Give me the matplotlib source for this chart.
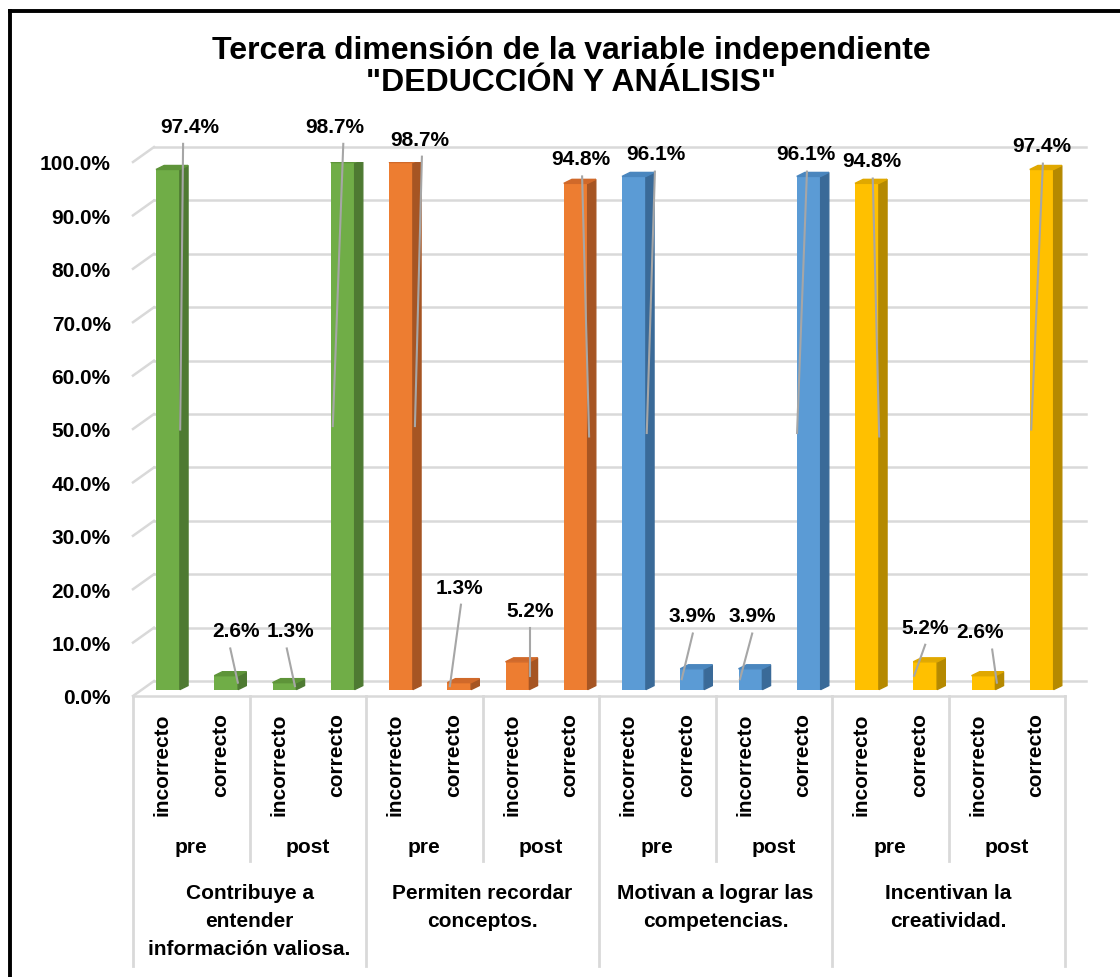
import matplotlib.pyplot as plt
from matplotlib.patches import Polygon
from matplotlib.lines import Line2D
from matplotlib.transforms import blended_transform_factory

plt.rcParams['font.family'] = ['Liberation Sans', 'DejaVu Sans']

# categorias del eje (tres niveles)
temas = ["Contribuye a\nentender\ninformación valiosa.",
         "Permiten recordar\nconceptos.",
         "Motivan a lograr las\ncompetencias.",
         "Incentivan la\ncreatividad."]
momentos = ["pre", "post"]
respuestas = ["incorrecto", "correcto"]

# porcentajes: pre-incorrecto, pre-correcto, post-incorrecto, post-correcto
contribuye = [97.4, 2.6, 1.3, 98.7]
permiten = [98.7, 1.3, 5.2, 94.8]
motivan = [96.1, 3.9, 3.9, 96.1]
incentivan = [94.8, 5.2, 2.6, 97.4]
series = [contribuye, permiten, motivan, incentivan]

yticks = [0, 10, 20, 30, 40, 50, 60, 70, 80, 90, 100]

# colores (frente, tapa, lateral) por tema
colores = [("#70AD47", "#5E9439", "#4E7A32"),
           ("#ED7D31", "#D0692A", "#A65523"),
           ("#5B9BD5", "#4A86BE", "#3A6A98"),
           ("#FFC000", "#E0A800", "#B58900")]

# posicion de las etiquetas respecto a cada barra
label_dx = [0.48, 0.27, 0.20, -0.03, 0.43, 0.11, 0.32, 0.19,
            0.48, 0.10, 0.13, 0.05, 0.19, 0.10, 0.04, 0.10]
label_dy = [9.3, 9.6, 10.9, 8.0, 5.6, 19.1, 10.9, 5.8,
            5.4, 11.1, 11.1, 5.4, 5.4, 7.7, 9.4, 5.6]
# lineas guia: x de inicio (bajo la etiqueta) y x final (borde de la barra)
guia_x0 = [0.36, 0.17, 0.14, 0.11, 0.46, 0.13, 0.32, 0.21,
           0.46, 0.11, 0.13, 0.07, 0.20, 0.10, 0.25, 0.12]
guia_x1 = [0.31, 0.30, 0.28, -0.07, 0.34, -0.06, 0.32, 0.33,
           0.32, -0.08, -0.08, -0.10, 0.31, -0.09, 0.33, -0.08]

# efecto 3D (en unidades de datos)
DX, DY = 0.36, 2.8      # pared del fondo
BX, BY = 0.10, 1.2      # plano de las barras
BW = 0.41               # ancho de barra
SX, SY = 0.14, 0.75     # profundidad de barra
GRID = "#D9D9D9"
FS = 15

fig = plt.figure(figsize=(11.2, 9.78), dpi=100)
ax = fig.add_axes([133/1120, 281/978, 932/1120, 534/978])
ax.set_xlim(-0.5, 15.5)
ax.set_ylim(0, 100)
for s in ax.spines.values():
    s.set_visible(False)
ax.set_xticks([])
ax.set_yticks(yticks)
ax.set_yticklabels([f"{v:.1f}%" for v in yticks], fontsize=FS, fontweight="bold")
ax.tick_params(axis="y", length=0, pad=16)

# rejilla en la pared del fondo
for v in yticks:
    ax.plot([-0.5, -0.5 + DX], [v, v + DY], color=GRID, lw=1.8, clip_on=False, zorder=1)
    ax.plot([-0.5 + DX, 15.5 + DX], [v + DY, v + DY], color=GRID, lw=1.8, clip_on=False, zorder=1)
ax.plot([-0.5, 15.5], [0, 0], color=GRID, lw=1.8, clip_on=False, zorder=1)

valores = [v for serie in series for v in serie]
for i, v in enumerate(valores):
    front, top, side = colores[i // 4]
    xc = i + BX
    ax.bar(xc, v, width=BW, bottom=BY, color=front, zorder=3)
    left, right = xc - BW/2, xc + BW/2
    ax.add_patch(Polygon([(right, BY), (right + SX, BY + SY), (right + SX, BY + v + SY), (right, BY + v)],
                         closed=True, color=side, zorder=3))
    ax.add_patch(Polygon([(left, BY + v), (right, BY + v), (right + SX, BY + v + SY), (left + SX, BY + v + SY)],
                         closed=True, color=top, zorder=3))
    lx, ly = i + label_dx[i], v + label_dy[i]
    ax.plot([i + guia_x0[i], i + guia_x1[i]], [ly - 3.3, BY + v/2], color="#A6A6A6", lw=1.5,
            zorder=4, clip_on=False)
    ax.text(lx, ly, f"{v}%", ha="center", va="center", fontsize=FS, fontweight="bold",
            zorder=5, clip_on=False)

# eje de categorias de varios niveles
trans = blended_transform_factory(ax.transData, ax.transAxes)
for i in range(16):
    ax.text(i, -0.03, respuestas[i % 2], rotation=90, ha="center", va="top",
            fontsize=FS, fontweight="bold", transform=trans)
for k in range(8):
    ax.text(2*k + 0.5, -0.281, momentos[k % 2], ha="center", va="center",
            fontsize=FS, fontweight="bold", transform=trans)
for k in range(4):
    ax.text(4*k + 1.5, -0.35, temas[k], ha="center", va="top", linespacing=1.6,
            fontsize=FS, fontweight="bold", transform=trans)
for b in range(9):
    xb = b*2 - 0.5
    low = -0.506 if b % 2 == 0 else -0.309
    ax.add_line(Line2D([xb, xb], [0, low], transform=trans, color=GRID, lw=2, clip_on=False))

fig.text(571/1120, 1 - 67/978, 'Tercera dimensión de la variable independiente\n"DEDUCCIÓN Y ANÁLISIS"',
         ha="center", va="center", fontsize=23, fontweight="bold",
         family="Liberation Sans", linespacing=1.1)

# marco
fig.add_artist(Line2D([10/1120, 10/1120], [0, 1 - 12/978], transform=fig.transFigure, color="black", lw=2.8))
fig.add_artist(Line2D([10/1120, 1], [1 - 12/978, 1 - 12/978], transform=fig.transFigure, color="black", lw=2.8))

fig.savefig("out.png", dpi=100)
